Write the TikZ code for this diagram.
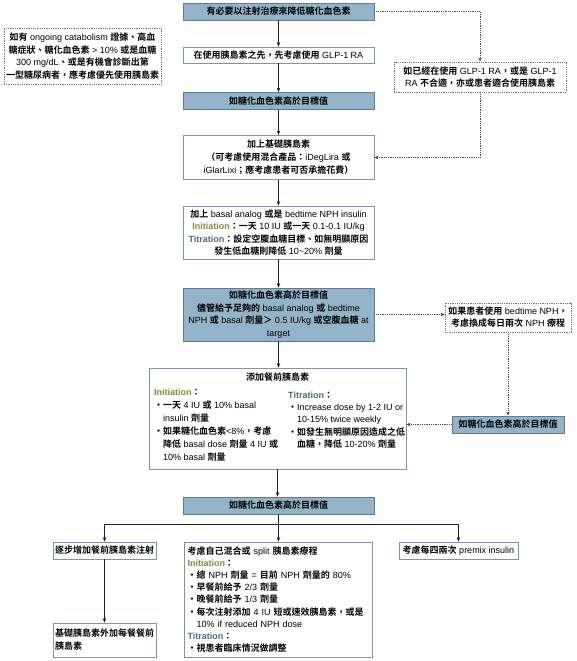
\documentclass[tikz,border=0pt]{standalone}
\usepackage{fontspec}
\setmainfont{Liberation Sans}
\newfontfamily\zhfont{Noto Sans CJK TC}[UprightFont={* Bold}]
\usetikzlibrary{arrows.meta}
\definecolor{boxblue}{RGB}{147,179,200}
\definecolor{boxblueline}{RGB}{95,122,148}
\definecolor{boxline}{RGB}{128,148,178}
\definecolor{notegray}{RGB}{115,115,115}
\definecolor{arrowc}{RGB}{30,30,30}
\definecolor{dotc}{RGB}{70,70,70}
\definecolor{initc}{RGB}{128,140,62}
\definecolor{titc}{RGB}{85,102,122}
% automatic switch to the CJK font
\XeTeXinterchartokenstate=1
\newXeTeXintercharclass\zhclass
\newcount\zhcnt
\def\zhrange#1#2{\zhcnt=#1\relax\loop\ifnum\zhcnt<#2\relax\XeTeXcharclass\zhcnt=\zhclass\advance\zhcnt by 1\repeat}
\zhrange{"3000}{"3100}
\zhrange{"4E00}{"A000}
\zhrange{"FF00}{"FF60}
\XeTeXinterchartoks 0 \zhclass = {\begingroup\zhfont}
\XeTeXinterchartoks 4095 \zhclass = {\begingroup\zhfont}
\XeTeXinterchartoks \zhclass 0 = {\endgroup}
\XeTeXinterchartoks \zhclass 4095 = {\endgroup}
\newcommand\Init{{\color{initc}\bfseries Initiation}}
\newcommand\Titr{{\color{titc}\bfseries Titration}}
\tikzset{
  every node/.style={font=\fontsize{9}{12.5}\selectfont, inner sep=0pt},
  bluebox/.style={draw=boxblueline, fill=boxblue, line width=0.8pt, align=center},
  whitebox/.style={draw=boxline, fill=white, line width=0.8pt, align=center},
  notebox/.style={draw=notegray, densely dotted, line width=0.8pt, align=center, fill=white},
  arr/.style={draw=arrowc, line width=0.7pt, -{Stealth[length=4.5pt,width=3.5pt]}},
  plainline/.style={draw=arrowc, line width=0.7pt},
  darr/.style={draw=dotc, line width=0.8pt, densely dotted, -{Stealth[length=4pt,width=3.5pt]}},
}
\begin{document}
\begin{tikzpicture}[x=1pt,y=-1pt]
\fill[white] (0,0) rectangle (576,661);
\useasboundingbox (0,0) rectangle (576,661);

\node[bluebox, minimum width=191, minimum height=17] (A) at (278.5,11.5) {有必要以注射治療來降低糖化血色素};
\node[notebox, minimum width=157, minimum height=56, font=\fontsize{9}{12.7}\selectfont] (LN) at (82.5,56) {如有 ongoing catabolism 證據、高血\\糖症狀、糖化血色素 > 10\% 或是血糖\\300 mg/dL、或是有機會診斷出第\\一型糖尿病者，應考慮優先使用胰島素};
\node[whitebox, minimum width=191, minimum height=16] (B) at (278.5,55) {在使用胰島素之先，先考慮使用 GLP-1 RA};
\node[notebox, minimum width=172, minimum height=30, font=\fontsize{9}{12}\selectfont] (N1) at (480,77) {如已經在使用 GLP-1 RA，或是 GLP-1\\RA 不合適，亦或患者適合使用胰島素};
\node[bluebox, minimum width=191, minimum height=17] (C) at (278.5,101) {如糖化血色素高於目標值};
\node[whitebox, minimum width=191, minimum height=44, font=\fontsize{9}{12.8}\selectfont] (D) at (278.5,157.5) {加上基礎胰島素\\（可考慮使用混合產品：iDegLira 或\\iGlarLixi；應考慮患者可否承擔花費）};
\node[whitebox, minimum width=191, minimum height=53] (E) at (278.5,232.5) {加上 basal analog 或是 bedtime NPH insulin\\\Init{}：一天 10 IU 或一天 0.1-0.1 IU/kg\\\Titr{}：設定空腹血糖目標、如無明顯原因\\發生低血糖則降低 10\textasciitilde{}20\% 劑量};
\node[bluebox, minimum width=191, minimum height=53] (F) at (278.5,314.5) {如糖化血色素高於目標值\\儘管給予足夠的 basal analog 或 bedtime\\NPH 或 basal 劑量＞ 0.5 IU/kg 或空腹血糖 at\\target};
\node[notebox, minimum width=126, minimum height=29, font=\fontsize{9}{12}\selectfont] (N2) at (508,317.5) {如果患者使用 bedtime NPH，\\考慮換成每日兩次 NPH 療程};

\node[whitebox, minimum width=257, minimum height=101] (G) at (277.5,418.5) {};
\node (Gt) at (277.5,377) {添加餐前胰島素};
\node[anchor=north west, align=left, font=\fontsize{9}{13}\selectfont] (Gl) at (154,388.5) {\Init{}：\\・一天 4 IU 或 10\% basal\\\hspace*{9pt}insulin 劑量\\・如果糖化血色素<8\%，考慮\\\hspace*{9pt}降低 basal dose 劑量 4 IU 或\\\hspace*{9pt}10\% basal 劑量};
\node[anchor=north west, align=left, font=\fontsize{9}{12.3}\selectfont] (Gr) at (288,391.5) {\Titr{}：\\・Increase dose by 1-2 IU or\\\hspace*{9pt}10-15\% twice weekly\\・如發生無明顯原因造成之低\\\hspace*{9pt}血糖，降低 10-20\% 劑量};
\node[bluebox, minimum width=112, minimum height=17] (H) at (508,424.5) {如糖化血色素高於目標值};

\node[bluebox, minimum width=191, minimum height=17] (I) at (278.5,505.5) {如糖化血色素高於目標值};
\coordinate (bus) at (278.5,524);
\node[whitebox, minimum width=103, minimum height=17] (J) at (104.5,550.5) {逐步增加餐前胰島素注射};
\node[whitebox, minimum width=188, minimum height=115, align=left, text width=182, font=\fontsize{9}{12.2}\selectfont] (K) at (278.5,599.5) {考慮自己混合或 split 胰島素療程\\\Init{}：\\・總 NPH 劑量 = 目前 NPH 劑量的 80\%\\・早餐前給予 2/3 劑量\\・晚餐前給予 1/3 劑量\\・每次注射添加 4 IU 短或速效胰島素，或是\\\hspace*{9pt}10\% if reduced NPH dose\\\Titr{}：\\・視患者臨床情況做調整};
\node[whitebox, minimum width=119, minimum height=17] (L) at (458.5,550.5) {考慮每四兩次 premix insulin};
\node[whitebox, minimum width=103, minimum height=34, align=left, text width=99, font=\fontsize{9}{13}\selectfont] (M) at (104.5,640) {基礎胰島素外加每餐餐前\\胰島素};

\draw[arr] (A.south) -- (B.north);
\draw[arr] (B.south) -- (C.north);
\draw[arr] (C.south) -- (D.north);
\draw[arr] (D.south) -- (E.north);
\draw[arr] (E.south) -- (F.north);
\draw[arr] (F.south) -- (F.south |- G.north);
\draw[arr] (G.south) -- (G.south |- I.north);
\draw[plainline] (I.south) -- (bus);
\draw[arr] (bus) -| (J.north);
\draw[arr] (bus) -- (K.north);
\draw[arr] (bus) -| (L.north);
\draw[arr] (J.south) -- (M.north);

\draw[darr] (A.east) -| (N1.north);
\draw[darr] (N1.south) |- (D.east);
\draw[darr] (F.east) -- (F.east -| N2.west);
\draw[darr] (N2.south) -- (H.north);
\draw[darr] (H.west) -- (H.west -| G.east);
\end{tikzpicture}
\end{document}
